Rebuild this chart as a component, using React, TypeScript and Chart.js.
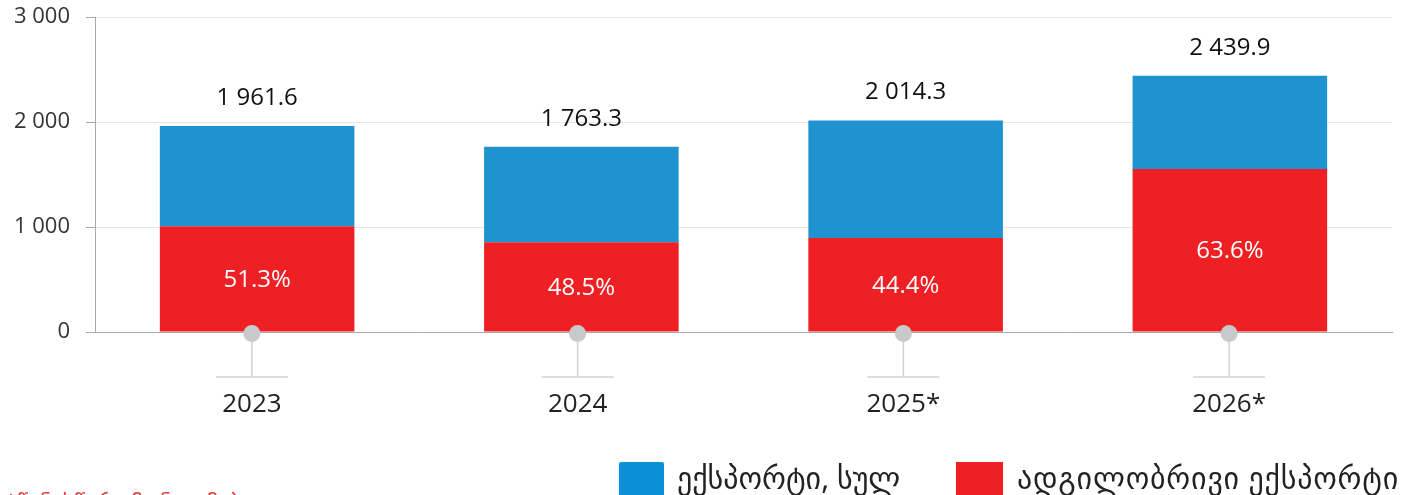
import React, { useEffect, useRef } from "react";
import { Chart, registerables } from "chart.js";

Chart.register(...registerables);

const categories = ["2023", "2024", "2025*", "2026*"];
const totalExport = [1961.6, 1763.3, 2014.3, 2439.9];
const localShare = [51.3, 48.5, 44.4, 63.6];
const localExport = [1006.3, 855.2, 894.3, 1551.8];
const yTicks = [0, 1000, 2000, 3000];

const seriesNames = ["ექსპორტი, სულ", "ადგილობრივი ექსპორტი"];
const footnote = "*წინასწარი მონაცემები";

const BLUE = "#1e93d0";
const RED = "#ee2024";
const FONT = "'Open Sans', 'Noto Sans', 'DejaVu Sans', sans-serif";

function fmt(v: number, decimals: number): string {
  const s = v.toFixed(decimals);
  const [i, d] = s.split(".");
  const withSpaces = i.replace(/\B(?=(\d{3})+(?!\d))/g, " ");
  return d ? withSpaces + "." + d : withSpaces;
}

const decorPlugin = {
  id: "decor",
  afterDatasetsDraw(chart: any) {
    const ctx = chart.ctx;
    const x = chart.scales.x;
    const y = chart.scales.y;
    const base = chart.chartArea.bottom;
    // category markers are laid out across the axis including the tick marks
    const markLeft = y.left + y.width - 6;
    const span = (x.right - markLeft) / (x.right - x.left);
    ctx.save();
    categories.forEach((cat, i) => {
      const bx = x.getPixelForValue(i);
      const cx = x.right - (x.right - bx) * span;
      // stem
      ctx.strokeStyle = "#d2d2d2";
      ctx.lineWidth = 1.5;
      ctx.beginPath();
      ctx.moveTo(cx, base);
      ctx.lineTo(cx, base + 45);
      ctx.stroke();
      ctx.beginPath();
      ctx.moveTo(cx - 36, base + 45);
      ctx.lineTo(cx + 36, base + 45);
      ctx.stroke();
      // dot
      ctx.fillStyle = "#c8c9cb";
      ctx.beginPath();
      ctx.arc(cx, base + 1.5, 8.5, 0, Math.PI * 2);
      ctx.fill();
      // category label
      ctx.textAlign = "center";
      ctx.textBaseline = "middle";
      ctx.font = `26px ${FONT}`;
      ctx.fillStyle = "#222";
      ctx.fillText(cat, cx, base + 73);
      // totals
      ctx.font = `24px ${FONT}`;
      ctx.fillStyle = "#111";
      ctx.fillText(fmt(totalExport[i], 1), bx, y.getPixelForValue(totalExport[i]) - 28);
      // share
      ctx.fillStyle = "#ffffff";
      const mid = (y.getPixelForValue(0) + y.getPixelForValue(localExport[i])) / 2;
      ctx.fillText(localShare[i].toFixed(1) + "%", bx, mid + 1);
    });
    ctx.restore();
  },
};

export default function App() {
  const ref = useRef<HTMLCanvasElement | null>(null);

  useEffect(() => {
    if (!ref.current) return;
    const chart = new Chart(ref.current, {
      type: "bar",
      data: {
        labels: categories,
        datasets: [
          {
            label: seriesNames[1],
            data: localExport,
            backgroundColor: RED,
            categoryPercentage: 1,
            barPercentage: 0.6,
            stack: "s",
          },
          {
            label: seriesNames[0],
            data: totalExport.map((t, i) => +(t - localExport[i]).toFixed(1)),
            backgroundColor: BLUE,
            categoryPercentage: 1,
            barPercentage: 0.6,
            stack: "s",
          },
        ],
      },
      options: {
        animation: false,
        responsive: false,
        maintainAspectRatio: false,
        layout: { padding: { top: 16, right: 12, left: 0, bottom: 0 } },
        plugins: {
          legend: { display: false },
          tooltip: { enabled: false },
        },
        scales: {
          x: {
            stacked: true,
            grid: { display: false, drawTicks: false },
            border: { display: true, color: "#a8a8a8", width: 1 },
            ticks: { display: false },
            afterFit(s: any) {
              s.height = 495 - 332;
            },
          },
          y: {
            stacked: true,
            min: 0,
            max: 3000,
            afterBuildTicks(s: any) {
              s.ticks = yTicks.map((v) => ({ value: v }));
            },
            grid: {
              color: "#e6e6e6",
              tickColor: "#a8a8a8",
              tickLength: 9,
              lineWidth: 1,
            },
            border: { display: true, color: "#a8a8a8", width: 1 },
            ticks: {
              font: { family: FONT, size: 22, lineHeight: 1 },
              color: "#333",
              padding: 16,
              callback: (v: any) => fmt(Number(v), 0),
            },
            afterFit(s: any) {
              s.width = 95;
            },
          },
        },
      },
      plugins: [decorPlugin],
    });
    return () => chart.destroy();
  }, []);

  const legendText: React.CSSProperties = {
    position: "absolute",
    top: 458,
    fontFamily: "'Noto Sans', 'DejaVu Sans', sans-serif",
    fontSize: 30,
    color: "#222",
    whiteSpace: "nowrap",
    lineHeight: "40px",
  };

  return (
    <div
      style={{
        position: "fixed",
        left: 0,
        top: 0,
        width: 1404,
        height: 495,
        overflow: "hidden",
        background: "#fff",
      }}
    >
      <canvas ref={ref} width={1404} height={505} style={{ position: "absolute", left: 0, top: -10 }} />
      <div style={{ position: "absolute", left: 619, top: 462, width: 45, height: 45, background: "#0a90d5", borderRadius: 2 }} />
      <div style={{ ...legendText, left: 677 }}>{seriesNames[0]}</div>
      <div style={{ position: "absolute", left: 956, top: 462, width: 47, height: 45, background: RED }} />
      <div style={{ ...legendText, left: 1017, letterSpacing: 0.8 }}>{seriesNames[1]}</div>
      <div
        style={{
          position: "absolute",
          left: 5,
          top: 486,
          fontFamily: "'Noto Sans', 'DejaVu Sans', sans-serif",
          fontSize: 22,
          color: "#e53a40",
          whiteSpace: "nowrap",
          lineHeight: "30px",
        }}
      >
        {footnote}
      </div>
    </div>
  );
}
